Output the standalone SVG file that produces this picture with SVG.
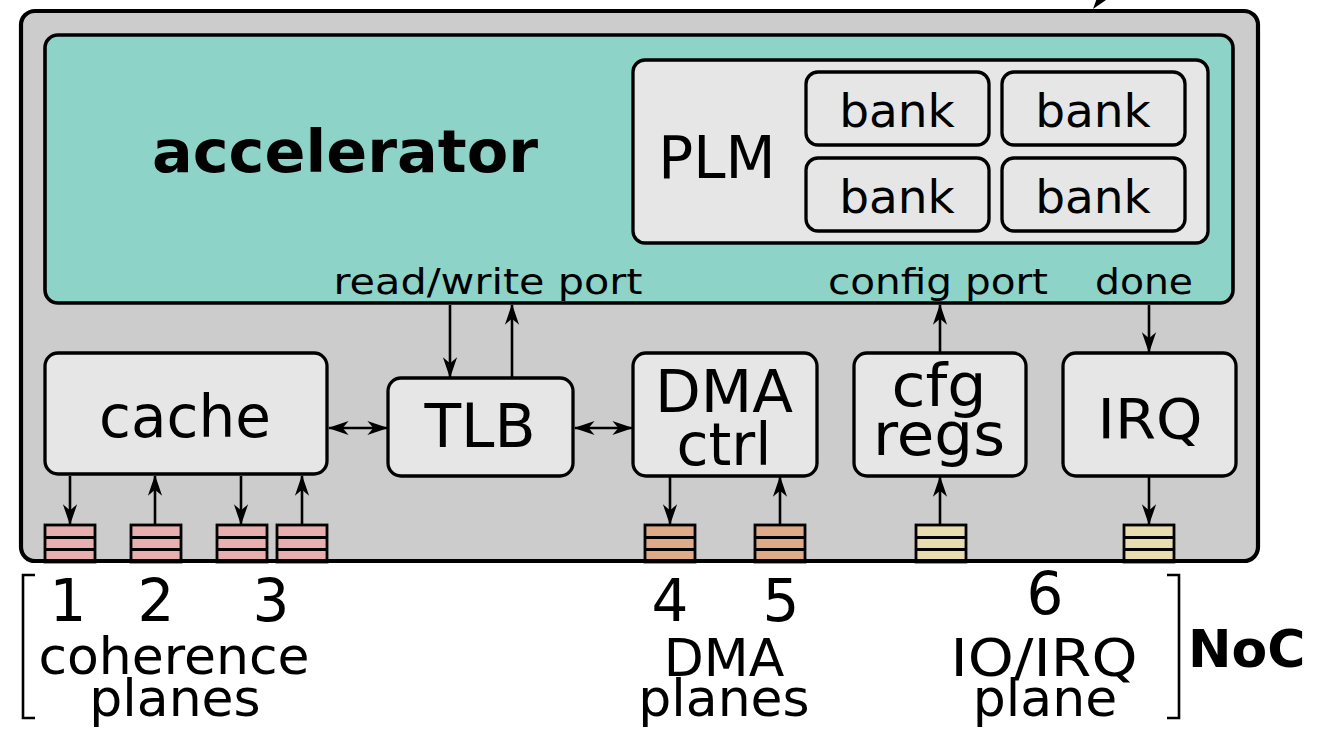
<svg xmlns="http://www.w3.org/2000/svg" width="1326" height="729" viewBox="0 0 1326 729">
  <defs>
    <marker id="arrow" markerUnits="userSpaceOnUse" markerWidth="24" markerHeight="20" refX="0" refY="0" viewBox="-20 -8 22 16" orient="auto-start-reverse" overflow="visible">
      <path d="M1,0 L-18,-6.5 L-12.5,0 L-18,6.5 z" fill="#000"/>
    </marker>
    <style>
      .outer { fill: #cccccc; stroke: #000; stroke-width: 4.2; }
      .accel { fill: #8dd3c7; stroke: #000; stroke-width: 3.6; }
      .blk { fill: #e6e6e6; stroke: #000; stroke-width: 3.3; }
      .q rect { stroke: #000; stroke-width: 2.8; }
      .q line { stroke: #000; stroke-width: 2.8; }
      .coh rect { fill: #e9afaf; }
      .dma rect { fill: #deaa87; }
      .io rect { fill: #e9ddaf; }
      .wire { stroke: #000; stroke-width: 2.6; fill: none; }
      .t { font-family: "DejaVu Sans", Verdana, sans-serif; fill: #000; text-anchor: middle; }
      .b { font-family: "DejaVu Sans", Verdana, sans-serif; font-weight: bold; fill: #000; }
      .brk { stroke: #000; stroke-width: 2.6; fill: none; }
    </style>
  </defs>

  <!-- tile frame -->
  <g id="tile">
    <rect class="outer" x="21" y="11" width="1237" height="550" rx="14"/>
  </g>

  <!-- arrow tip entering from above -->
  <path d="M1093,9 L1097,-2 L1106,0 z" fill="#000"/>

  <!-- accelerator -->
  <g id="accelerator">
    <rect class="accel" x="45" y="35" width="1188" height="268" rx="13"/>
    <text class="b" x="152" y="172" font-size="58" textLength="386" lengthAdjust="spacingAndGlyphs">accelerator</text>
    <text class="t" x="488" y="294" font-size="36" textLength="309" lengthAdjust="spacingAndGlyphs">read/write port</text>
    <text class="t" x="938" y="294" font-size="36" textLength="220" lengthAdjust="spacingAndGlyphs">config port</text>
    <text class="t" x="1144" y="294" font-size="36" textLength="98" lengthAdjust="spacingAndGlyphs">done</text>
  </g>

  <!-- private local memory -->
  <g id="plm">
    <rect class="blk" x="633" y="60" width="575" height="183" rx="12"/>
    <text class="t" x="717" y="178" font-size="58">PLM</text>
  </g>
  <g id="bank1">
    <rect class="blk" x="806" y="72" width="183" height="73" rx="12"/>
    <text class="t" x="897" y="127" font-size="47">bank</text>
  </g>
  <g id="bank2">
    <rect class="blk" x="1002" y="72" width="183" height="73" rx="12"/>
    <text class="t" x="1093" y="127" font-size="47">bank</text>
  </g>
  <g id="bank3">
    <rect class="blk" x="806" y="158" width="183" height="73" rx="12"/>
    <text class="t" x="897" y="213" font-size="47">bank</text>
  </g>
  <g id="bank4">
    <rect class="blk" x="1002" y="158" width="183" height="73" rx="12"/>
    <text class="t" x="1093" y="213" font-size="47">bank</text>
  </g>

  <!-- tile sockets -->
  <g id="cache">
    <rect class="blk" x="45" y="353" width="282" height="121" rx="13"/>
    <text class="t" x="185" y="437" font-size="58">cache</text>
  </g>
  <g id="tlb">
    <rect class="blk" x="388" y="378" width="185" height="98" rx="13"/>
    <text class="t" x="480" y="447" font-size="60">TLB</text>
  </g>
  <g id="dma-ctrl">
    <rect class="blk" x="633" y="353" width="184" height="123" rx="13"/>
    <text class="t" x="724" y="412" font-size="58" textLength="138" lengthAdjust="spacingAndGlyphs">DMA</text>
    <text class="t" x="724" y="465" font-size="58" textLength="95" lengthAdjust="spacingAndGlyphs">ctrl</text>
  </g>
  <g id="cfg-regs">
    <rect class="blk" x="854" y="353" width="172" height="123" rx="13"/>
    <text class="t" x="939" y="406" font-size="58" textLength="95" lengthAdjust="spacingAndGlyphs">cfg</text>
    <text class="t" x="939" y="455" font-size="58" textLength="132" lengthAdjust="spacingAndGlyphs">regs</text>
  </g>
  <g id="irq">
    <rect class="blk" x="1063" y="353" width="173" height="123" rx="13"/>
    <text class="t" x="1150" y="438" font-size="56" textLength="105" lengthAdjust="spacingAndGlyphs">IRQ</text>
  </g>

  <!-- NoC plane queues -->
  <g id="queues">
    <g class="q coh">
      <rect x="45" y="525" width="50" height="37"/>
      <rect x="131" y="525" width="50" height="37"/>
      <rect x="217" y="525" width="50" height="37"/>
      <rect x="277" y="525" width="50" height="37"/>
    </g>
    <g class="q dma">
      <rect x="645" y="525" width="50" height="37"/>
      <rect x="755" y="525" width="50" height="37"/>
    </g>
    <g class="q io">
      <rect x="916" y="525" width="50" height="37"/>
      <rect x="1124" y="525" width="50" height="37"/>
    </g>
    <g class="q">
      <line x1="45" y1="537.5" x2="95" y2="537.5"/><line x1="45" y1="549.5" x2="95" y2="549.5"/>
      <line x1="131" y1="537.5" x2="181" y2="537.5"/><line x1="131" y1="549.5" x2="181" y2="549.5"/>
      <line x1="217" y1="537.5" x2="267" y2="537.5"/><line x1="217" y1="549.5" x2="267" y2="549.5"/>
      <line x1="277" y1="537.5" x2="327" y2="537.5"/><line x1="277" y1="549.5" x2="327" y2="549.5"/>
      <line x1="645" y1="537.5" x2="695" y2="537.5"/><line x1="645" y1="549.5" x2="695" y2="549.5"/>
      <line x1="755" y1="537.5" x2="805" y2="537.5"/><line x1="755" y1="549.5" x2="805" y2="549.5"/>
      <line x1="916" y1="537.5" x2="966" y2="537.5"/><line x1="916" y1="549.5" x2="966" y2="549.5"/>
      <line x1="1124" y1="537.5" x2="1174" y2="537.5"/><line x1="1124" y1="549.5" x2="1174" y2="549.5"/>
    </g>
  </g>
  <!-- tile bottom edge drawn over the queues -->
  <line x1="35" y1="561" x2="1244" y2="561" stroke="#000" stroke-width="4.2"/>

  <!-- connectors -->
  <g id="connectors">
    <line class="wire" x1="70" y1="476" x2="70" y2="524" marker-end="url(#arrow)"/>
    <line class="wire" x1="155" y1="524" x2="155" y2="476" marker-end="url(#arrow)"/>
    <line class="wire" x1="241" y1="476" x2="241" y2="524" marker-end="url(#arrow)"/>
    <line class="wire" x1="302" y1="524" x2="302" y2="476" marker-end="url(#arrow)"/>
    <line class="wire" x1="670" y1="477" x2="670" y2="524" marker-end="url(#arrow)"/>
    <line class="wire" x1="780" y1="524" x2="780" y2="477" marker-end="url(#arrow)"/>
    <line class="wire" x1="940" y1="524" x2="940" y2="477" marker-end="url(#arrow)"/>
    <line class="wire" x1="1149" y1="477" x2="1149" y2="524" marker-end="url(#arrow)"/>
    <line class="wire" x1="450" y1="305" x2="450" y2="377" marker-end="url(#arrow)"/>
    <line class="wire" x1="512" y1="377" x2="512" y2="305" marker-end="url(#arrow)"/>
    <line class="wire" x1="940" y1="352" x2="940" y2="305" marker-end="url(#arrow)"/>
    <line class="wire" x1="1149" y1="305" x2="1149" y2="352" marker-end="url(#arrow)"/>
    <line class="wire" x1="329" y1="428" x2="387" y2="428" marker-start="url(#arrow)" marker-end="url(#arrow)"/>
    <line class="wire" x1="575" y1="428" x2="632" y2="428" marker-start="url(#arrow)" marker-end="url(#arrow)"/>
  </g>

  <!-- plane labels -->
  <g id="labels">
    <text class="t" x="68" y="621" font-size="58">1</text>
    <text class="t" x="156" y="621" font-size="58">2</text>
    <text class="t" x="271" y="621" font-size="58">3</text>
    <text class="t" x="174" y="674" font-size="52">coherence</text>
    <text class="t" x="175" y="716" font-size="52">planes</text>
    <text class="t" x="670" y="621" font-size="58">4</text>
    <text class="t" x="781" y="621" font-size="58">5</text>
    <text class="t" x="724" y="676" font-size="52">DMA</text>
    <text class="t" x="724" y="716" font-size="52">planes</text>
    <text class="t" x="1045" y="614" font-size="58">6</text>
    <text class="t" x="1044" y="676" font-size="52" textLength="187" lengthAdjust="spacingAndGlyphs">IO/IRQ</text>
    <text class="t" x="1045" y="716" font-size="52">plane</text>
    <text class="b" x="1188" y="667" font-size="52">NoC</text>
    <path class="brk" d="M35,575 H23 V718 H35"/>
    <path class="brk" d="M1167,575 H1179 V718 H1167"/>
  </g>
</svg>
